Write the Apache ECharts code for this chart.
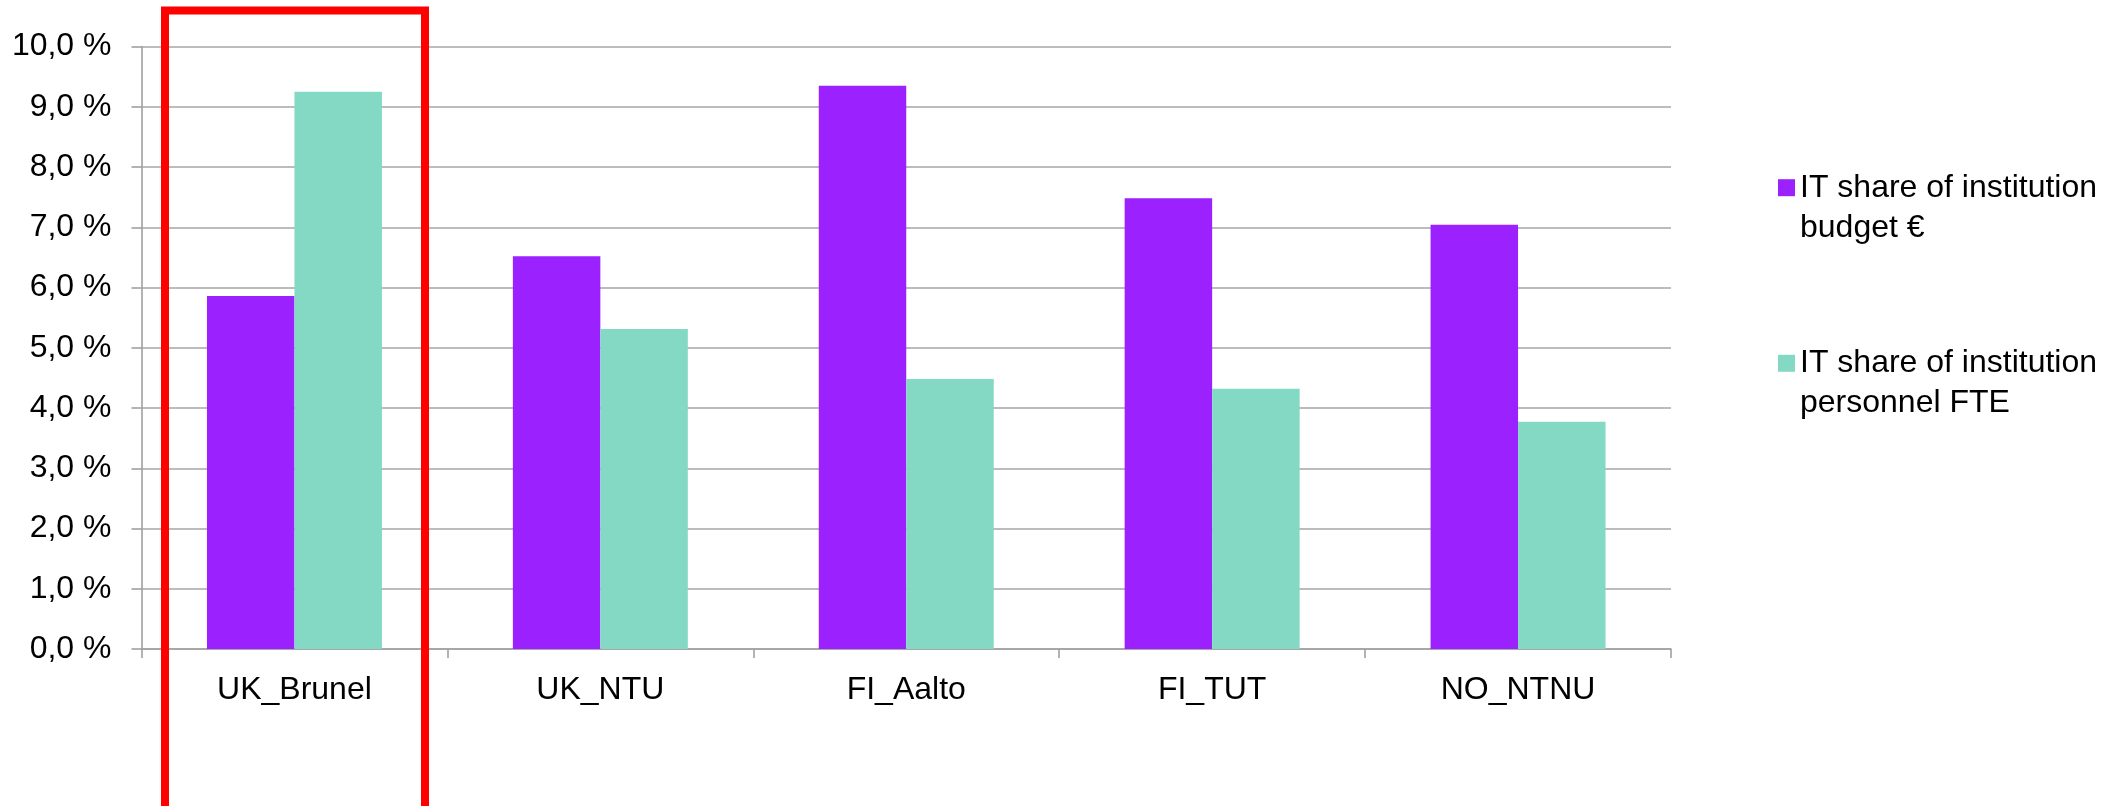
<!DOCTYPE html>
<html>
<head>
<meta charset="utf-8">
<script src="https://cdn.jsdelivr.net/npm/echarts@6/dist/echarts.min.js"></script>
<style>
html,body{margin:0;padding:0;background:#fff;}
#chart{width:2111px;height:806px;}
</style>
</head>
<body>
<div id="chart"></div>
<script>
const categories = ['UK_Brunel', 'UK_NTU', 'FI_Aalto', 'FI_TUT', 'NO_NTNU'];
const budgetShare = [5.86, 6.52, 9.35, 7.48, 7.04];
const personnelShare = [9.25, 5.31, 4.48, 4.32, 3.77];
const seriesNames = ['IT share of institution\nbudget €', 'IT share of institution\npersonnel FTE'];
const yTicks = [0, 1, 2, 3, 4, 5, 6, 7, 8, 9, 10];

const chart = echarts.init(document.getElementById('chart'));
const fontFamily = '"Liberation Sans", Arial, sans-serif';
const legendText = {
  fontFamily: fontFamily, fontSize: 32, color: '#000', lineHeight: 40
};
// leading blank line so the first text line sits level with the swatch
const legendFormatter = name => '\n' + name;
chart.setOption({
  animation: false,
  backgroundColor: '#fff',
  grid: { left: 141.5, right: 440, top: 46.5, bottom: 157, containLabel: false },
  legend: [
    { data: [seriesNames[0]], orient: 'vertical', left: 1778, top: 127.7, padding: 0,
      itemWidth: 17, itemHeight: 17, icon: 'rect', textStyle: legendText, formatter: legendFormatter },
    { data: [seriesNames[1]], orient: 'vertical', left: 1778, top: 303.3, padding: 0,
      itemWidth: 17, itemHeight: 17, icon: 'rect', textStyle: legendText, formatter: legendFormatter }
  ],
  xAxis: {
    type: 'category',
    data: categories,
    axisLine: { show: true, lineStyle: { color: '#a0a0a0', width: 1.6 } },
    axisTick: { show: true, length: 9, alignWithLabel: false, interval: 0, lineStyle: { color: '#a0a0a0', width: 1.6 } },
    axisLabel: { margin: 25, fontFamily: fontFamily, fontSize: 32, color: '#000', interval: 0 }
  },
  yAxis: {
    type: 'value',
    min: yTicks[0],
    max: yTicks[yTicks.length - 1],
    interval: 1,
    axisLine: { show: true, lineStyle: { color: '#a0a0a0', width: 1.6 } },
    axisTick: { show: true, length: 10, lineStyle: { color: '#a0a0a0', width: 1.6 } },
    splitLine: { show: true, lineStyle: { color: '#a6a6a6', width: 1.6 } },
    axisLabel: {
      margin: 30, fontFamily: fontFamily, fontSize: 32, color: '#000',
      formatter: v => v.toFixed(1).replace('.', ',') + ' %'
    }
  },
  series: [
    { name: seriesNames[0], type: 'bar', data: budgetShare, barGap: 0, barCategoryGap: '42.8%',
      itemStyle: { color: '#9b22fe' } },
    { name: seriesNames[1], type: 'bar', data: personnelShare, barGap: 0, barCategoryGap: '42.8%',
      itemStyle: { color: '#84d9c5' } }
  ],
  graphic: [
    { type: 'rect', left: 161, top: 6.5, z: 100, silent: true,
      shape: { x: 0, y: 0, width: 260, height: 830 },
      style: { fill: 'none', stroke: '#ff0000', lineWidth: 8 } }
  ]
});
</script>
</body>
</html>
